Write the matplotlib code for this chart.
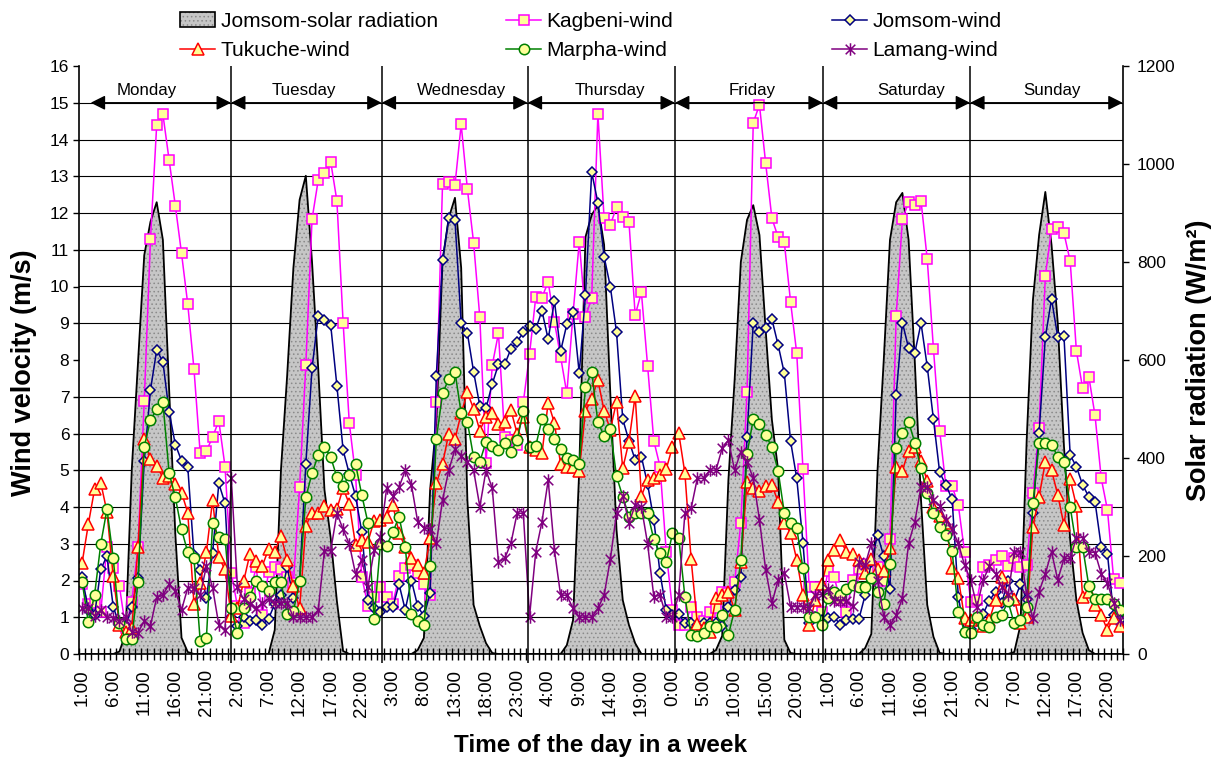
import numpy as np
import matplotlib.pyplot as plt
from matplotlib.patches import Patch
from matplotlib.lines import Line2D
from matplotlib.path import Path
from matplotlib.markers import MarkerStyle

plt.rcParams['font.family'] = ['Liberation Sans', 'DejaVu Sans']
plt.rcParams['hatch.linewidth'] = 0.6

# hourly readings, Monday 1:00 to Sunday 24:00 (one row per day)
kagbeni = [
    1.9, 1.35, 1.38, 1.15, 2.92, 2.33, 1.85, 0.7, 1.42, 2.92, 6.89, 11.28, 14.39, 14.69, 13.44, 12.2, 10.9, 9.52, 7.76, 5.46, 5.52, 5.91, 6.34, 5.1,
    2.21, 1.3, 0.83, 1.65, 2.36, 1.05, 2.24, 2.36, 2.3, 2.1, 1.92, 4.54, 7.86, 11.83, 12.9, 13.1, 13.4, 12.33, 9.02, 6.28, 4.87, 2.1, 1.31, 1.56,
    1.81, 1.54, 1.37, 2.12, 2.33, 2.42, 2.2, 1.9, 1.6, 6.85, 12.8, 12.85, 12.76, 14.41, 12.65, 11.19, 9.16, 5.2, 7.86, 8.73, 5.91, 5.82, 5.7, 6.85,
    8.16, 9.71, 9.7, 10.13, 9.04, 8.09, 7.09, 9.25, 11.22, 9.18, 9.68, 14.69, 11.86, 11.67, 12.17, 11.9, 11.76, 9.22, 9.84, 7.84, 5.8, 5.1, 2.78, 1.2,
    0.79, 0.79, 1.29, 1.0, 0.9, 1.15, 1.24, 1.7, 1.67, 1.95, 3.56, 7.14, 14.46, 14.94, 13.35, 11.86, 11.34, 11.2, 9.59, 8.18, 5.03, 1.81, 1.81, 1.15,
    2.27, 2.1, 1.47, 1.15, 2.01, 2.3, 2.45, 2.3, 2.36, 1.98, 3.12, 9.2, 11.83, 12.29, 12.22, 12.33, 10.74, 8.3, 6.08, 4.57, 4.57, 4.05, 2.78, 1.42,
    1.47, 2.36, 2.42, 2.56, 2.67, 2.4, 2.6, 2.36, 2.42, 4.37, 6.16, 10.29, 11.56, 11.63, 11.45, 10.69, 8.25, 7.23, 7.55, 6.49, 4.78, 3.92, 2.03, 1.93,
]
jomsom = [
    2.1, 1.2, 1.05, 2.3, 2.67, 1.29, 0.8, 0.75, 1.29, 2.06, 5.25, 7.18, 8.27, 7.95, 6.59, 5.7, 5.26, 5.1, 2.69, 2.29, 1.52, 2.76, 4.64, 4.1,
    1.0, 0.75, 1.0, 0.9, 0.93, 0.79, 0.96, 1.36, 1.6, 2.36, 1.52, 2.0, 5.17, 7.77, 9.21, 9.08, 8.96, 7.3, 5.55, 4.9, 4.3, 3.33, 1.47, 1.25,
    1.15, 1.27, 1.27, 1.9, 1.2, 2.0, 1.3, 1.03, 1.65, 7.57, 10.72, 11.86, 11.81, 9.0, 8.73, 7.68, 6.75, 6.69, 7.35, 7.88, 7.88, 8.3, 8.5, 8.75,
    8.93, 8.84, 9.34, 8.56, 9.61, 8.24, 8.97, 9.31, 7.64, 9.77, 13.11, 12.28, 10.81, 10.0, 8.75, 6.39, 5.8, 5.28, 5.37, 4.62, 3.65, 2.2, 1.2, 1.06,
    1.1, 0.83, 0.83, 0.8, 0.83, 0.83, 0.83, 0.76, 1.29, 1.74, 2.1, 5.91, 9.02, 8.77, 8.86, 9.11, 8.41, 7.64, 5.8, 4.78, 3.03, 0.85, 1.0, 0.93,
    0.97, 1.02, 0.79, 0.93, 0.95, 0.95, 1.6, 2.5, 3.24, 2.66, 1.78, 7.05, 9.02, 8.32, 8.2, 9.0, 7.82, 6.39, 4.94, 4.6, 4.21, 1.56, 0.61, 0.67,
    0.9, 1.1, 1.45, 1.7, 1.4, 2.0, 1.45, 1.9, 1.5, 3.83, 6.02, 8.62, 9.66, 8.63, 8.65, 5.41, 5.1, 4.6, 4.28, 4.14, 2.92, 2.72, 1.06, 0.93,
]
tukuche = [
    2.48, 3.53, 4.48, 4.66, 3.87, 2.12, 0.8, 0.61, 0.7, 2.92, 5.84, 5.31, 5.12, 4.8, 4.85, 4.63, 4.39, 3.85, 1.36, 1.92, 2.77, 4.19, 2.63, 2.3,
    1.03, 1.25, 1.99, 2.72, 2.52, 2.4, 2.85, 2.78, 3.21, 2.57, 1.84, 1.24, 3.48, 3.85, 3.85, 4.03, 3.93, 3.95, 4.51, 4.08, 2.97, 3.1, 3.06, 3.63,
    3.65, 3.74, 4.05, 3.3, 2.9, 2.6, 2.43, 2.2, 3.15, 4.64, 5.17, 6.0, 5.84, 6.55, 7.12, 6.67, 6.08, 6.46, 6.55, 6.26, 6.3, 6.64, 6.0, 6.44,
    5.64, 5.55, 5.46, 6.84, 6.29, 5.17, 5.1, 5.1, 4.99, 6.61, 6.93, 7.46, 6.62, 6.1, 6.87, 5.05, 5.78, 7.03, 4.3, 4.73, 4.78, 4.87, 5.03, 5.64,
    6.02, 4.92, 2.58, 0.82, 0.7, 0.61, 1.52, 1.6, 1.7, 1.2, 2.49, 4.69, 4.51, 4.44, 4.57, 4.6, 4.14, 3.56, 3.3, 2.56, 1.6, 0.79, 1.47, 1.9,
    2.56, 2.83, 3.1, 2.78, 2.72, 2.56, 2.2, 2.58, 2.3, 2.26, 2.88, 5.08, 4.99, 5.53, 5.63, 5.26, 4.7, 4.01, 3.76, 3.56, 2.35, 2.07, 0.97, 0.93,
    1.0, 0.77, 0.93, 1.47, 2.1, 1.52, 1.49, 0.83, 1.0, 3.46, 4.28, 5.23, 5.0, 4.33, 3.51, 4.75, 4.03, 1.56, 1.69, 1.33, 1.06, 0.65, 0.98, 0.77,
]
marpha = [
    1.97, 0.86, 1.6, 2.99, 3.94, 2.62, 0.83, 0.4, 0.4, 1.97, 5.64, 6.37, 6.66, 6.85, 4.93, 4.26, 3.39, 2.77, 2.6, 0.36, 0.43, 3.56, 3.18, 3.14,
    1.24, 0.56, 1.24, 1.56, 2.0, 1.84, 1.72, 1.96, 1.95, 1.1, 1.16, 1.99, 4.26, 4.92, 5.41, 5.63, 5.36, 4.81, 4.57, 4.87, 5.17, 4.33, 3.57, 0.94,
    2.99, 2.95, 3.31, 3.74, 2.92, 1.1, 0.9, 0.8, 2.39, 5.85, 7.09, 7.48, 7.68, 6.55, 6.32, 5.35, 5.23, 5.78, 5.66, 5.55, 5.73, 5.5, 5.82, 6.61,
    5.62, 5.66, 6.39, 6.12, 5.84, 5.57, 5.32, 5.28, 5.17, 7.27, 7.68, 6.3, 5.94, 6.12, 4.83, 4.28, 3.74, 3.83, 3.83, 3.83, 3.12, 2.74, 2.5, 3.28,
    3.17, 1.56, 0.52, 0.48, 0.56, 0.76, 0.74, 1.05, 0.52, 1.2, 2.56, 5.44, 6.39, 6.26, 5.97, 5.62, 4.99, 3.83, 3.56, 3.42, 2.33, 1.02, 1.02, 0.79,
    1.52, 1.7, 1.6, 1.77, 1.87, 1.81, 1.81, 2.06, 1.7, 1.36, 2.45, 5.6, 6.02, 6.32, 5.75, 5.05, 4.37, 3.83, 3.46, 3.24, 2.8, 1.15, 0.6, 0.57,
    1.0, 0.78, 0.74, 1.0, 1.07, 1.43, 0.83, 0.93, 1.28, 4.1, 5.73, 5.73, 5.7, 5.37, 5.23, 4.01, 2.92, 2.92, 1.85, 1.49, 1.49, 1.49, 1.37, 1.2,
]
lamang = [
    1.24, 1.24, 1.03, 1.2, 1.0, 0.99, 0.9, 1.0, 0.6, 0.58, 0.9, 0.77, 1.54, 1.6, 1.9, 1.72, 1.2, 1.8, 1.8, 1.6, 2.39, 1.8, 0.79, 0.66,
    4.8, 1.81, 1.49, 1.37, 1.24, 1.38, 1.5, 1.4, 1.4, 1.4, 1.0, 1.0, 1.0, 1.0, 1.2, 2.81, 2.81, 3.83, 3.39, 2.99, 2.18, 2.56, 1.83, 2.82,
    3.19, 4.51, 4.3, 4.54, 5.0, 4.6, 3.6, 3.44, 3.4, 3.01, 4.19, 5.0, 5.57, 5.39, 5.23, 5.0, 4.01, 5.0, 4.51, 2.51, 2.6, 3.01, 3.83, 3.83,
    1.02, 2.78, 3.6, 4.73, 2.83, 1.6, 1.6, 1.24, 1.0, 1.0, 1.0, 1.24, 1.6, 2.58, 3.83, 4.3, 3.57, 4.05, 4.0, 3.0, 1.56, 1.6, 1.02, 1.02,
    1.6, 3.83, 3.96, 4.78, 4.78, 5.0, 5.0, 5.6, 5.82, 5.0, 5.5, 5.23, 4.78, 3.65, 2.29, 1.38, 2.01, 2.2, 1.29, 1.29, 1.29, 1.25, 1.6, 1.63,
    1.78, 1.45, 1.45, 1.45, 1.3, 2.51, 2.42, 3.01, 2.0, 1.02, 0.79, 1.05, 1.52, 3.01, 3.6, 4.55, 4.55, 4.19, 4.03, 3.65, 3.39, 3.01, 2.42, 2.01,
    1.29, 2.01, 2.39, 2.18, 1.83, 1.6, 2.78, 2.78, 1.6, 0.97, 1.7, 2.18, 2.78, 2.01, 2.6, 2.6, 3.17, 3.17, 2.78, 2.76, 2.18, 1.93, 1.38, 0.93,
]
# Jomsom solar radiation, W/m2
solar = [
    0, 0, 0, 0, 0, 0, 5, 41, 378, 596, 814, 882, 922, 845, 541, 245, 33, 4, 0, 0, 0, 0, 0, 0,
    0, 0, 0, 0, 0, 0, 0, 49, 376, 569, 788, 927, 976, 800, 582, 335, 237, 108, 6, 0, 0, 0, 0, 0,
    0, 0, 0, 0, 0, 0, 8, 33, 335, 473, 802, 890, 931, 788, 314, 100, 57, 22, 2, 0, 0, 0, 0, 0,
    0, 0, 0, 0, 0, 0, 18, 69, 376, 851, 896, 916, 835, 531, 253, 110, 59, 22, 0, 0, 0, 0, 0, 0,
    0, 0, 0, 0, 0, 0, 8, 37, 355, 559, 800, 886, 916, 855, 661, 478, 376, 29, 2, 0, 0, 0, 0, 0,
    0, 0, 0, 0, 0, 0, 12, 41, 376, 600, 845, 922, 941, 845, 596, 314, 100, 35, 2, 0, 0, 0, 0, 0,
    0, 0, 0, 0, 0, 0, 4, 59, 437, 722, 855, 943, 835, 676, 424, 233, 110, 43, 8, 0, 0, 0, 0, 0,
]
hour_labels = ['%d:00' % (h % 24) for h in range(1, 169)]
days = ['Monday', 'Tuesday', 'Wednesday', 'Thursday', 'Friday', 'Saturday', 'Sunday']
# arrow extents and caption centres for the day bands (hour index units)
day_edges = [1.38, 23.96, 48.2, 71.7, 95.4, 119.2, 142.9, 167.45]
day_text_x = [10.4, 35.7, 61.0, 85.0, 107.8, 133.4, 156.1]

x = np.arange(len(solar))
yellow = '#FFFF99'

fig = plt.figure(figsize=(12.18, 7.58), dpi=100)
ax = fig.add_axes([79 / 1218, 104 / 758, 1044 / 1218, 588 / 758])
ax2 = ax.twinx()
ax.set_zorder(ax2.get_zorder() + 1)
ax.patch.set_visible(False)

# solar radiation area on the right axis
ax2.fill_between(x, solar, 0, facecolor='#c6c6c6', edgecolor='#8a8a8a',
                 hatch='....', linewidth=0)
ax2.plot(x, solar, color='black', lw=1.3)
ax2.set_ylim(0, 1200)
ax2.set_yticks(range(0, 1201, 200))
ax2.set_yticks(np.arange(0, 1201, 75), minor=True)
ax2.set_axisbelow(True)
ax2.grid(which='minor', axis='y', color='black', lw=0.8)
ax2.tick_params(axis='y', which='minor', length=0)
ax2.tick_params(axis='y', which='major', direction='out', length=4, width=1,
                labelsize=12.5, pad=6)
for s in ['top', 'left', 'bottom']:
    ax2.spines[s].set_visible(False)
ax2.spines['right'].set_linewidth(1.2)

star = MarkerStyle(Path([(-1, -1), (1, 1), (-1, 1), (1, -1), (0, -1.3), (0, 1.3)],
                        [Path.MOVETO, Path.LINETO] * 3))

kw = dict(lw=1.1, mew=1.1, mfc=yellow)
ax.plot(x, kagbeni, color='#FF00FF', marker='s', ms=7, mec='#FF00FF', **kw)
ax.plot(x, jomsom, color='#000080', marker='D', ms=5, mec='#000080', **kw)
ax.plot(x, tukuche, color='#FF0000', marker='^', ms=8, mec='#FF0000', **kw)
ax.plot(x, marpha, color='#008000', marker='o', ms=7.5, mec='#008000', **kw)
ax.plot(x, lamang, color='#800080', marker=star, ms=9, mec='#800080',
        lw=1.1, mew=1.1, mfc='none')

ax.set_xlim(-0.5, 167.5)
ax.set_ylim(0, 16)
ax.set_yticks(range(17))
ax.tick_params(axis='y', direction='out', length=4, width=1, labelsize=12.5, pad=3)
major = list(range(0, 168, 5))
ax.set_xticks(major, [hour_labels[i] for i in major], rotation=90)
ax.set_xticks(np.arange(-0.5, 168, 1), minor=True)
ax.tick_params(axis='x', which='major', length=0, labelsize=13.5, pad=11)
ax.tick_params(axis='x', which='minor', direction='inout', length=9, width=1)
for s in ['top', 'right']:
    ax.spines[s].set_visible(False)
ax.spines['left'].set_linewidth(1.2)
ax.spines['bottom'].set_linewidth(1.2)

# day separators and labelled arrows
ax.vlines(day_edges[1:-1], -0.25, 16, color='black', lw=1.1, clip_on=False)
for k, name in enumerate(days):
    ax.annotate('', xy=(day_edges[k + 1], 15), xytext=(day_edges[k], 15),
                arrowprops=dict(arrowstyle='<|-|>,head_length=0.4,head_width=0.2',
                                color='black', lw=1, mutation_scale=22,
                                shrinkA=0, shrinkB=0))
    ax.text(day_text_x[k], 15.12, name, ha='center', va='bottom', fontsize=12.2)

fig.text(24 / 1218, 1 - 373 / 758, 'Wind velocity (m/s)', rotation=90,
         ha='center', va='center', fontsize=19.5, fontweight='bold')
fig.text(1199 / 1218, 1 - 360 / 758, 'Solar radiation (W/m²)', rotation=90,
         ha='center', va='center', fontsize=19.5, fontweight='bold')
fig.text(600.8 / 1218, 1 - 751.7 / 758, 'Time of the day in a week',
         ha='center', va='baseline', fontsize=17.5, fontweight='bold')

# legend, three columns of two entries
solar_handle = (Patch(facecolor='#c6c6c6', edgecolor='#8a8a8a', hatch='....', lw=0),
                Patch(facecolor='none', edgecolor='black', lw=1.2))


def wind_handle(color, marker, ms):
    fc = 'none' if marker is star else yellow
    return Line2D([], [], color=color, lw=1.1, marker=marker, ms=ms,
                  mfc=fc, mec=color, mew=1.1)


columns = [
    (180, [solar_handle, wind_handle('#FF0000', '^', 8)],
     ['Jomsom-solar radiation', 'Tukuche-wind']),
    (506, [wind_handle('#FF00FF', 's', 7), wind_handle('#008000', 'o', 7.5)],
     ['Kagbeni-wind', 'Marpha-wind']),
    (832, [wind_handle('#000080', 'D', 5), wind_handle('#800080', star, 9)],
     ['Jomsom-wind', 'Lamang-wind']),
]
for left, handles, labels in columns:
    fig.legend(handles, labels, loc='upper left',
               bbox_to_anchor=(left / 1218, 1 - 12 / 758), frameon=False,
               borderpad=0, borderaxespad=0, handlelength=1.7,
               handletextpad=0.25, labelspacing=0.5, fontsize=15)

fig.savefig('out.png', dpi=100)
